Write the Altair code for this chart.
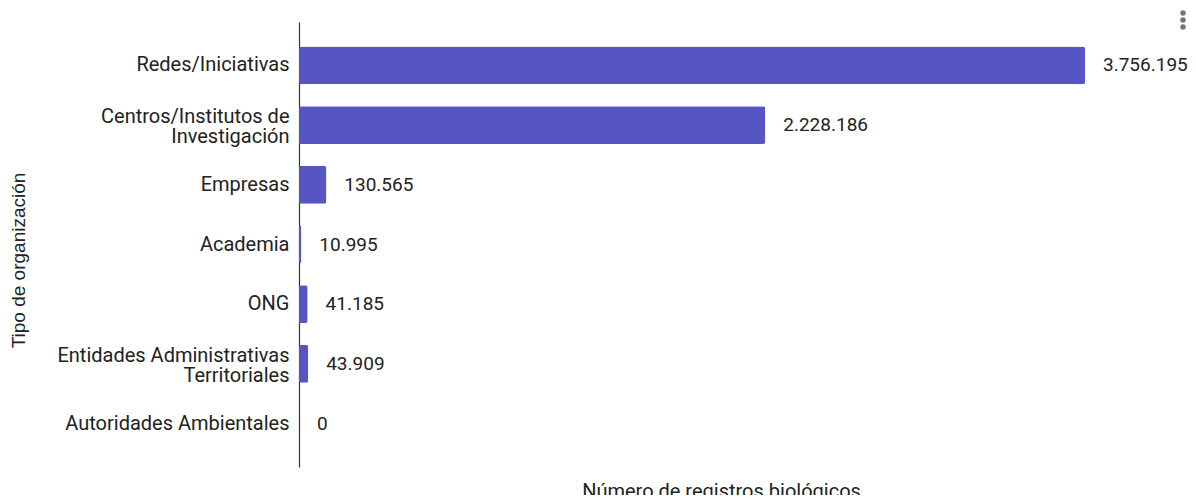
import altair as alt
import pandas as pd

categories = [
    "Redes/Iniciativas",
    "Centros/Institutos de|Investigación",
    "Empresas",
    "Academia",
    "ONG",
    "Entidades Administrativas|Territoriales",
    "Autoridades Ambientales",
]
values = [3756195, 2228186, 130565, 10995, 41185, 43909, 0]

df = pd.DataFrame({"tipo": categories, "registros": values})
df["etiqueta"] = [f"{v:,}".replace(",", ".") for v in values]

BAR = "#5555C3"
FONT = "Roboto"

x_scale = alt.Scale(domain=[0, 4033366], nice=False, zero=True)
y_scale = alt.Scale(paddingInner=0.367, paddingOuter=0.41)

base = alt.Chart(df)

bars = base.mark_bar(color=BAR, cornerRadius=2).encode(
    x=alt.X(
        "registros:Q",
        scale=x_scale,
        axis=alt.Axis(
            title="Número de registros biológicos",
            labels=False, ticks=False, domain=False, grid=False,
            titleFont=FONT, titleFontSize=20, titleFontWeight="normal",
            titleColor="#222222", titlePadding=14,
        ),
    ),
    y=alt.Y(
        "tipo:N",
        sort=None,
        scale=y_scale,
        axis=alt.Axis(
            title="Tipo de organización",
            ticks=False, grid=False,
            domainColor="#333333", domainWidth=1.2,
            labelFont=FONT, labelFontSize=20, labelColor="#222222",
            labelPadding=10, labelLimit=400, labelLineHeight=20,
            labelExpr="split(datum.label, '|')",
            labelOffset={"expr": "indexof(datum.value, '|') >= 0 ? -8 : 0"},
            titleFont="Liberation Sans", titleFontSize=19, titleFontWeight="normal",
            titleColor="#222222", titleX=-281, titleY=238, titleAngle=270,
            titleAlign="center", titleBaseline="middle",
        ),
    ),
)

labels = base.mark_text(
    align="left", baseline="middle", dx=18, font=FONT, fontSize=19, color="#222222"
).encode(
    x=alt.X("registros:Q", scale=x_scale),
    y=alt.Y("tipo:N", sort=None, scale=y_scale),
    text="etiqueta:N",
)

dot_style = dict(filled=True, color="#757575", size=30, opacity=1, shape="circle")
menu = [
    alt.Chart(pd.DataFrame({"d": [i]})).mark_point(**dot_style).encode(
        x=alt.value(884), y=alt.value(yv)
    )
    for i, yv in enumerate([-9, -2, 5])
]

chart = (
    alt.layer(bars, labels, *menu)
    .properties(
        width=844,
        height=445,
        padding={"left": 291, "top": 14, "right": 45, "bottom": 28},
        autosize=alt.AutoSizeParams(type="none"),
        background="white",
    )
    .configure_view(strokeWidth=0, stroke="transparent")
)

chart.save("out.html", embed_options={"renderer": "svg", "actions": False})
